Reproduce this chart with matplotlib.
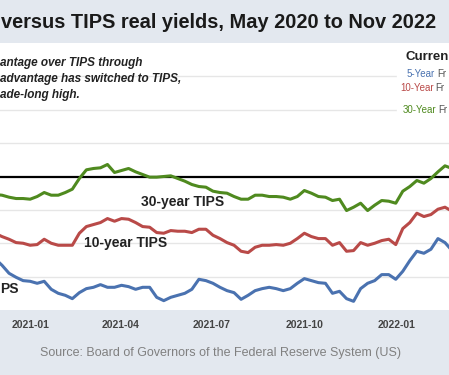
import pandas as pd
import matplotlib.pyplot as plt

# weekly observations (Fridays), visible window only
dates = pd.date_range('2020-11-27', periods=66, freq='7D')

tips30 = [-0.27, -0.28, -0.31, -0.33, -0.33, -0.34, -0.30, -0.24, -0.28, -0.28,
          -0.24, -0.19, -0.03, 0.10, 0.12, 0.13, 0.18, 0.06, 0.09, 0.12,
          0.07, 0.03, -0.01, -0.01, 0.00, 0.01, -0.03, -0.07, -0.12, -0.15,
          -0.16, -0.22, -0.24, -0.25, -0.30, -0.34, -0.34, -0.28, -0.28, -0.30,
          -0.30, -0.31, -0.34, -0.30, -0.21, -0.25, -0.30, -0.31, -0.36, -0.34,
          -0.51, -0.46, -0.40, -0.51, -0.43, -0.36, -0.37, -0.40, -0.22, -0.15,
          -0.06, -0.10, -0.03, 0.07, 0.16, 0.12]

tips10 = [-0.85, -0.90, -0.94, -0.99, -1.00, -1.03, -1.02, -0.94, -1.00, -1.03,
          -1.03, -1.03, -0.85, -0.75, -0.72, -0.69, -0.63, -0.67, -0.63, -0.64,
          -0.69, -0.75, -0.76, -0.84, -0.85, -0.81, -0.82, -0.82, -0.84, -0.79,
          -0.79, -0.88, -0.93, -0.99, -1.03, -1.12, -1.14, -1.06, -1.03, -1.03,
          -1.02, -1.03, -1.00, -0.93, -0.85, -0.90, -0.93, -0.93, -1.03, -0.99,
          -1.12, -1.11, -0.99, -1.03, -1.00, -0.96, -0.94, -1.02, -0.78, -0.69,
          -0.55, -0.60, -0.57, -0.49, -0.46, -0.52]

tips5 = [-1.23, -1.33, -1.45, -1.51, -1.56, -1.57, -1.60, -1.57, -1.69, -1.75,
         -1.78, -1.83, -1.74, -1.68, -1.66, -1.62, -1.66, -1.66, -1.63, -1.65,
         -1.69, -1.66, -1.66, -1.81, -1.86, -1.81, -1.78, -1.75, -1.69, -1.54,
         -1.56, -1.60, -1.66, -1.71, -1.74, -1.84, -1.78, -1.71, -1.68, -1.66,
         -1.68, -1.71, -1.68, -1.60, -1.53, -1.56, -1.59, -1.60, -1.75, -1.72,
         -1.83, -1.87, -1.68, -1.60, -1.56, -1.47, -1.47, -1.54, -1.42, -1.26,
         -1.12, -1.15, -1.09, -0.93, -0.99, -1.11]

tick_dates = ['2021-01-01', '2021-04-01', '2021-07-01', '2021-10-01', '2022-01-01']
tick_labels = ['2021-01', '2021-04', '2021-07', '2021-10', '2022-01']

band = '#e3e8ef'
c30, c10, c5 = '#4f8a1f', '#b94a48', '#4a72b0'

plt.rcParams['font.family'] = ['Liberation Sans', 'DejaVu Sans']
fig = plt.figure(figsize=(4.49, 3.75), dpi=100)
fig.patch.set_facecolor(band)

ax = fig.add_axes([0, 65 / 375, 1, 267 / 375])
ax.set_facecolor('white')
ax.set_xlim(pd.Timestamp('2020-12-02'), pd.Timestamp('2022-02-22'))
ax.set_ylim(-2, 2)

for g in [1.5, 1.0, 0.5, -0.5, -1.0, -1.5]:
    ax.axhline(g, color='#e6e6e6', lw=1, zorder=1)
ax.axhline(0, color='black', lw=1.6, zorder=2)

ax.plot(dates, tips30, color=c30, lw=2.2, zorder=3)
ax.plot(dates, tips10, color=c10, lw=2.2, zorder=3)
ax.plot(dates, tips5, color=c5, lw=2.2, zorder=3)

ax.set_xticks([pd.Timestamp(d) for d in tick_dates])
ax.set_xticklabels(tick_labels, fontsize=7.5, color='#444444', fontweight='bold')
ax.tick_params(axis='x', length=0, pad=7)
ax.set_yticks([])
for s in ax.spines.values():
    s.set_visible(False)

# series labels
ax.text(141 / 449, (375 - 202 - 65) / 267, '30-year TIPS', transform=ax.transAxes,
        fontsize=10, fontweight='bold', color='#222222', va='center', ha='left')
ax.text(84 / 449, (375 - 243 - 65) / 267, '10-year TIPS', transform=ax.transAxes,
        fontsize=10, fontweight='bold', color='#222222', va='center', ha='left')
ax.text(0, (375 - 289 - 65) / 267, 'PS', transform=ax.transAxes,
        fontsize=10, fontweight='bold', color='#222222', va='center', ha='left')

# note text
note = ['antage over TIPS through', 'advantage has switched to TIPS,', 'ade-long high.']
for i, line in enumerate(note):
    fig.text(0, 1 - (63 + 16 * i) / 375, line, fontsize=8.5, fontweight='bold',
             fontstyle='italic', color='#222222', va='center', ha='left')

# legend box (cut off on the right)
fig.patches.append(plt.Rectangle((397 / 449, 1 - 120 / 375), 52 / 449, 76 / 375,
                                 transform=fig.transFigure, color='white', zorder=2))
fig.text(405 / 449, 1 - 57 / 375, 'Curren', fontsize=9.5, fontweight='bold',
         color='#222222', va='center', ha='left', zorder=3)
legend_rows = [('5-Year', c5, 407, 74), ('10-Year', c10, 400, 88), ('30-Year', c30, 403, 110)]
for name, col, lx, ly in legend_rows:
    t = fig.text(lx / 449, 1 - ly / 375, name, fontsize=7, color=col,
                 va='center', ha='left', zorder=3)
    fig.canvas.draw()
    bb = t.get_window_extent()
    fig.text(bb.x1 / 449 + 2 / 449, 1 - ly / 375, 'Fr', fontsize=7, color='#555555',
             va='center', ha='left', zorder=3)

# title band text
fig.text(1 / 449, 1 - 23 / 375, 'versus TIPS real yields, May 2020 to Nov 2022',
         fontsize=14.4, fontweight='bold', color='#1a1a1a', va='center', ha='left')

fig.text(0.49, 1 - 353 / 375, 'Source: Board of Governors of the Federal Reserve System (US)',
         fontsize=9, color='#808080', va='center', ha='center')

fig.savefig('out.png', dpi=100, facecolor=band)
